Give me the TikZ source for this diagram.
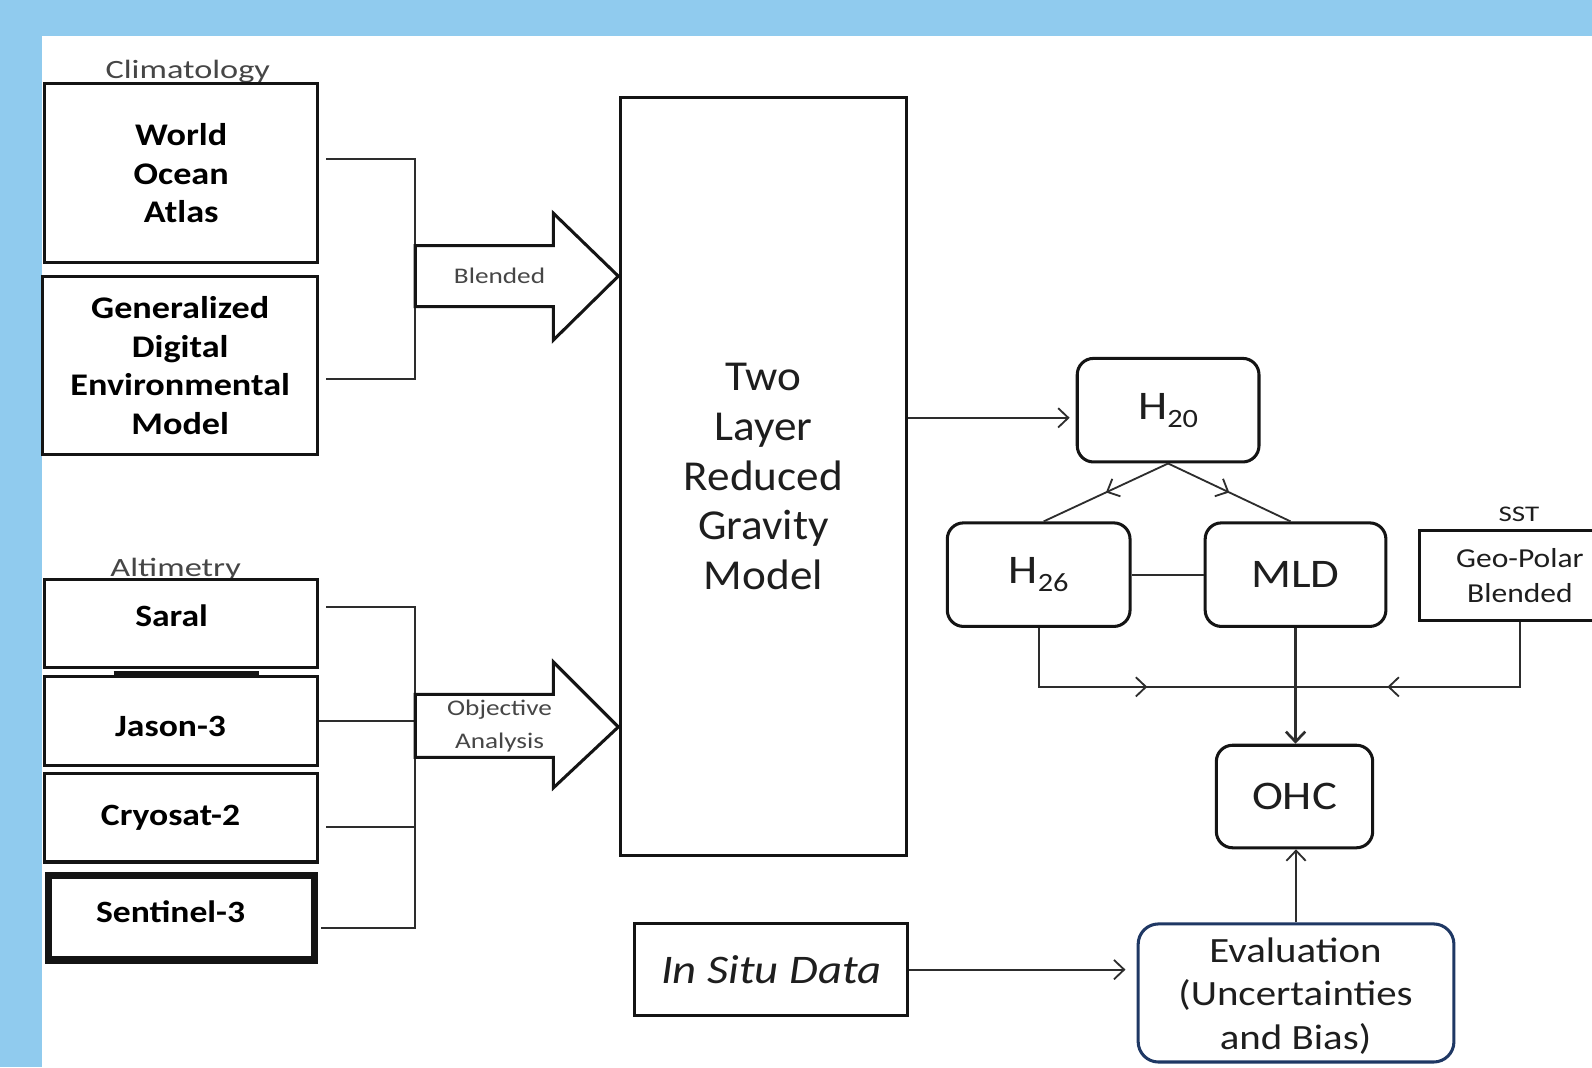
\documentclass[tikz,border=0pt]{standalone}
\usepackage{fontspec}
\setmainfont{Carlito}[FakeStretch=1.15]
\newfontfamily\modelfont{Carlito}[FakeStretch=1.06]
\newfontfamily\widefont{Carlito}[FakeStretch=1.3]
\newfontfamily\midfont{Carlito}[FakeStretch=1.22]
\usetikzlibrary{arrows.meta,calc,decorations.markings}
\definecolor{skyb}{RGB}{144,203,238}
\definecolor{ink}{RGB}{20,20,20}
\definecolor{txt}{RGB}{30,30,30}
\definecolor{lbl}{RGB}{70,70,70}
\definecolor{navy}{RGB}{31,56,100}
\definecolor{cn}{RGB}{45,45,45}
\begin{document}
\begin{tikzpicture}[x=1pt,y=-1pt,
  box/.style={draw=ink,line width=3pt,fill=white,inner sep=0pt,anchor=center,align=center,text=txt},
  rbox/.style={box,rounded corners=16pt},
  conn/.style={draw=cn,line width=1.8pt},
  arr/.style={conn,-{Straight Barb[length=10pt,width=19pt]}},
  midarr/.style={postaction={decorate},decoration={markings,mark=at position #1 with {\arrow[cn,line width=1.8pt]{Straight Barb[length=10pt,width=19pt]}}}},
  blk/.style={draw=ink,line width=3pt,fill=white,line join=miter},
  grp/.style={text=lbl,font=\widefont\fontsize{26}{26}\selectfont,anchor=base,inner sep=0pt},
  bold/.style={font=\fontsize{31}{38}\selectfont\bfseries,text=black},
  sat/.style={font=\fontsize{30.5}{30}\selectfont\bfseries,text=black,anchor=base,inner sep=0pt},
  small/.style={font=\midfont\fontsize{22}{32}\selectfont,text=lbl,align=center,inner sep=0pt}
]
\useasboundingbox (0,0) rectangle (1568,1051);
\fill[skyb] (0,0) rectangle (1568,1051);
\clip (0,0) rectangle (1568,1051);
\fill[white] (41,35) rectangle (1568,1051);

% group labels
\node[grp] (clim) at (185,77) {Climatology};
\node[grp] (alti) at (173,568) {Altimetry};

% climatology boxes
\node[box,bold,minimum width=269pt,minimum height=177pt] (woa) at (178.5,170.5) {World\\Ocean\\Atlas};
\node[box,bold,minimum width=271pt,minimum height=176pt] (gdem) at (177.5,360) {Generalized\\Digital\\Environmental\\Model};

% altimetry boxes
\node[box,minimum width=269pt,minimum height=86pt] (saral) at (178.5,614) {};
\node[box,minimum width=269pt,minimum height=87pt] (jason) at (178.5,710) {};
\node[box,minimum width=269pt,minimum height=87.5pt] (cryo) at (178.5,805.25) {};
\node[box,line width=7pt,minimum width=262pt,minimum height=83.5pt] (sent) at (178.5,903.75) {};
\draw[ink,line width=5pt] (112,663) -- (255,663);
\node[sat] (saralt) at (169,617) {Saral};
\node[sat] (jasont) at (168,725) {Jason-3};
\node[sat] (cryot) at (168,813.5) {Cryosat-2};
\node[sat] (sentt) at (168,909) {Sentinel-3};

% junctions at block arrow bases
\coordinate (cj) at (409,272);
\coordinate (aj) at (409,715);

% connectors
\draw[conn] ($(woa.east)+(7,-13.5)$) -| (cj) |- ($(gdem.east)+(7,13)$);
\draw[conn] ($(saral.east)+(7,-16)$) -| (aj);
\draw[conn] (jason.east) -- (jason.east -| aj);
\draw[conn] ($(cryo.east)+(7,9.5)$) -| (aj);
\draw[conn] ($(sent.east)+(3.5,10)$) -| (aj);

% block arrows
\draw[blk] (409,242) -- (545,242) -- (545,210) -- (609,272) -- (545,335) -- (545,302) -- (409,302) -- cycle;
\node[small] (blend) at (492,272) {Blended};
\draw[blk] (409,684) -- (545,684) -- (545,652) -- (609,716) -- (545,776) -- (545,746) -- (409,746) -- cycle;
\node[small] (obj) at (492,715) {Objective\\Analysis};

% model
\node[box,minimum width=282pt,minimum height=747pt,font=\modelfont\fontsize{42}{49}\selectfont] (model) at (752,469.5) {Two\\Layer\\Reduced\\Gravity\\Model};

% right part
\node[rbox,minimum width=179pt,minimum height=102pt,font=\fontsize{40}{40}\selectfont] (h20) at (1150.5,404) {H\raisebox{-8pt}{\fontsize{26}{26}\selectfont 20}};
\node[rbox,minimum width=180pt,minimum height=102pt,font=\fontsize{40}{40}\selectfont] (h26) at (1023,566) {H\raisebox{-8pt}{\fontsize{26}{26}\selectfont 26}};
\node[rbox,minimum width=178pt,minimum height=102pt,font=\fontsize{40}{40}\selectfont] (mld) at (1276,566) {MLD};
\node[rbox,minimum width=154pt,minimum height=101pt,font=\fontsize{40}{40}\selectfont] (ohc) at (1275,784.5) {OHC};
\node[font=\widefont\fontsize{22}{22}\selectfont,text=txt,anchor=base,inner sep=0pt] (sstl) at (1496,514) {SST};
\node[box,minimum width=198pt,minimum height=89pt,font=\fontsize{27}{35}\selectfont] (geo) at (1497,567) {Geo-Polar\\Blended};
\node[rbox,draw=navy,rounded corners=20pt,minimum width=311pt,minimum height=136pt,font=\fontsize{35}{43}\selectfont] (eval) at (1276.5,978) {};
\node[font=\fontsize{35}{43}\selectfont,text=txt,align=center,inner sep=0pt] (evalt) at (1276,981) {Evaluation\\(Uncertainties\\and Bias)};
\node[box,minimum width=269pt,minimum height=90pt,font=\fontsize{40}{40}\selectfont\itshape] (insitu) at (759.5,955) {In Situ Data};

\coordinate (ha) at ($(h20.west)+(0,7.5)$);
\draw[arr,shorten >=6pt] (model.east |- ha) -- (ha);
\draw[conn,midarr=0.5] (h20.south) -- ($(h26.north)+(5,0)$);
\draw[conn,midarr=0.5] (h20.south) -- ($(mld.north)+(-5,0)$);
\draw[conn] (h26.east) -- (mld.west);
\coordinate (j) at (mld.south |- 0,676.5);
\draw[conn,midarr=165pt] (h26.south) |- (j);
\draw[conn,midarr=194pt] (geo.south) |- (j);
\draw[arr,line width=2.6pt] (mld.south) -- (mld.south |- ohc.north);
\draw[arr] (eval.north) -- (eval.north |- ohc.south);
\draw[arr,shorten >=11pt] (insitu.east) -- (insitu.east -| eval.west);
\end{tikzpicture}
\end{document}
